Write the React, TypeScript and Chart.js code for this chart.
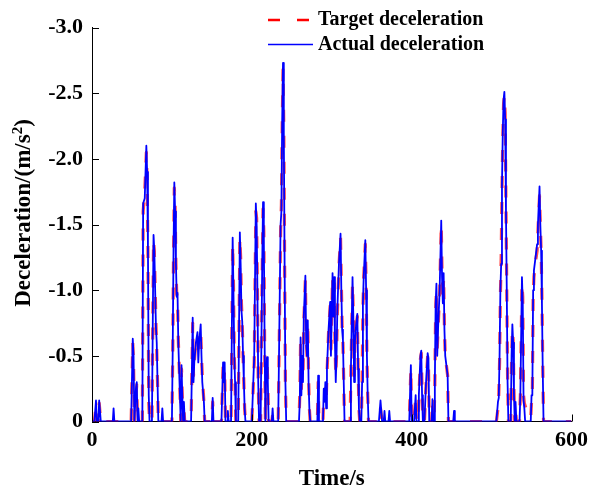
import React, { useEffect, useRef } from 'react';
import { Chart, registerables } from 'chart.js';

Chart.register(...registerables);

// ---- data (time in s, deceleration in m/s^2) ----
const times = [
  0, 3, 5, 6, 8, 9, 11,
  26, 27, 28,
  49, 51, 52, 53, 55, 56, 57, 58, 59,
  63, 64, 66, 68, 69, 70, 71, 72,
  75, 77, 78, 80, 81, 82, 83,
  87, 88, 89,
  100, 101, 102, 103, 104, 105, 106, 107, 108, 110, 111, 112, 113, 114, 115, 116,
  124, 126, 127, 128, 130, 132, 133, 134, 136, 137, 138, 140, 141,
  150, 151, 152,
  162, 164, 165, 166, 167, 169, 170, 171,
  174, 176, 177, 178, 179, 180,
  183, 185, 186, 187, 188, 189, 190, 191, 192,
  200, 203, 205, 206, 207, 208, 209,
  211, 213, 214, 215, 216, 217, 218, 219, 220, 221,
  225, 226, 227,
  233, 235, 236, 237, 238, 239, 240, 241, 242, 243,
  259, 260, 261, 262, 263, 264, 265, 267, 268, 269, 270, 271, 272, 273,
  282, 283, 284,
  289, 290, 291, 292, 293, 294, 296, 298, 299, 301, 302, 303, 304, 305, 306, 307, 309, 311, 312, 313, 314, 315, 316,
  323, 324, 326, 327, 328, 329, 330, 332, 333, 334, 335,
  337, 338, 339, 340, 342, 343, 344, 345, 346,
  359, 361, 362, 363, 365, 366, 367, 371, 372, 373,
  397, 399, 400,
  403, 405, 406,
  408, 409, 411, 412, 413, 414,
  416, 418, 420, 421, 422,
  425, 426, 427,
  428, 429, 430, 431, 432, 433, 435, 437, 438, 439, 440, 441, 442, 443, 445, 446,
  452, 453, 454,
  506, 508, 509, 510, 511, 512, 513, 514, 515, 516, 517, 518, 519, 520, 521,
  524, 525, 526, 527, 528, 529, 530, 531,
  535, 536, 538, 539, 540, 541, 542, 544, 548,
  549, 550, 551, 552, 553, 555, 557, 558, 560, 561, 562, 563, 564, 565, 600,
];

const actual = [
  0, 0, -0.16, 0, 0, -0.16, 0,
  0, -0.1, 0,
  0, -0.63, -0.5, 0, -0.25, -0.3, 0, -0.1, 0,
  0, -1.66, -1.7, -2.1, -1.9, -1.33, -0.2, 0,
  0, -1.42, -1.3, -0.72, -0.6, -0.3, 0,
  0, -0.1, 0,
  0, -0.55, -1.3, -1.82, -1.6, -1.21, -0.95, -0.98, -0.6, -0.2, 0, -0.43, -0.2, 0, -0.15, 0,
  0, -0.79, -0.3, -0.45, -0.6, -0.68, -0.45, -0.6, -0.74, -0.5, -0.3, -0.15, 0,
  0, -0.18, 0,
  0, -0.45, -0.3, -0.45, 0, 0, -0.08, 0,
  0, -1.4, -1.0, -0.52, -0.3, 0,
  0, -1.44, -1.2, -0.85, -0.76, -0.5, -0.31, -0.1, 0,
  0, -0.5, -1.66, -1.5, -1.0, -0.3, 0,
  0, -1.2, -1.67, -1.4, -0.6, 0, -0.4, -0.49, -0.3, 0,
  0, -0.1, 0,
  0, -1.0, -1.5, -1.6, -2.3, -2.73, -2.2, -1.2, -0.3, 0,
  0, -0.15, -0.64, -0.2, -0.5, -0.3, -0.8, -1.11, -0.6, -0.5, -0.77, -0.3, -0.1, 0,
  0, -0.35, 0,
  0, -0.25, -0.15, -0.3, -0.1, -0.4, -0.7, -0.91, -0.5, -1.13, -0.8, -1.1, -0.6, -0.3, -0.5, -0.85, -1.2, -1.43, -1.0, -0.7, -0.62, -0.3, 0,
  0, -0.4, -1.1, -0.8, -0.3, -0.6, -0.7, -0.82, -0.4, -0.1, 0,
  0, -0.3, -0.9, -1.1, -1.38, -1.0, -0.5, -0.2, 0,
  0, -0.16, -0.08, 0, 0, -0.08, 0, 0, -0.08, 0,
  0, -0.43, 0,
  0, -0.2, 0,
  0, -0.2, -0.5, -0.54, -0.2, 0,
  0, -0.3, -0.52, -0.48, 0,
  0, -0.17, 0,
  0, -0.3, -0.9, -1.05, -0.5, -0.7, -1.0, -1.53, -1.1, -0.9, -1.13, -0.7, -0.5, -0.45, -0.35, 0,
  0, -0.08, 0,
  0, -0.15, -0.18, -0.5, -1.0, -1.2, -1.8, -2.2, -2.45, -2.51, -2.3, -1.6, -1.0, -0.3, 0,
  0, -0.5, -0.74, -0.6, -0.2, 0, -0.15, 0,
  0, -0.2, -1.1, -0.9, -0.16, -0.1, 0, 0, 0,
  0, -0.2, -0.2, -1.0, -1.15, -1.25, -1.35, -1.5, -1.79, -1.5, -1.3, -0.9, -0.4, 0, 0,
];

const target = [
  0, 0, -0.12, 0, 0, -0.14, 0,
  0, 0, 0,
  0, -0.6, -0.45, 0, -0.2, -0.28, 0, 0, 0,
  0, -1.6, -1.75, -2.05, -1.85, -1.3, -0.15, 0,
  0, -1.38, -1.3, -0.75, -0.55, -0.3, 0,
  0, 0, 0,
  0, -0.5, -1.25, -1.78, -1.65, -1.2, -0.97, -0.95, -0.62, -0.25, 0, -0.4, -0.2, 0, -0.1, 0,
  0, -0.75, -0.35, -0.45, -0.62, -0.65, -0.5, -0.6, -0.7, -0.5, -0.35, -0.15, 0,
  0, -0.15, 0,
  0, -0.42, -0.3, -0.4, 0, 0, 0, 0,
  0, -1.35, -1.05, -0.5, -0.3, 0,
  0, -1.4, -1.25, -0.9, -0.75, -0.5, -0.3, -0.1, 0,
  0, -0.45, -1.6, -1.55, -1.0, -0.3, 0,
  0, -1.15, -1.62, -1.45, -0.6, 0, -0.4, -0.45, -0.3, 0,
  0, -0.05, 0,
  0, -0.95, -1.45, -1.65, -2.25, -2.68, -2.25, -1.25, -0.3, 0,
  0, -0.2, -0.6, -0.25, -0.45, -0.35, -0.75, -1.08, -0.65, -0.5, -0.75, -0.35, -0.1, 0,
  0, -0.3, 0,
  0, -0.2, -0.2, -0.25, -0.15, -0.35, -0.68, -0.88, -0.55, -1.1, -0.85, -1.05, -0.62, -0.35, -0.5, -0.82, -1.18, -1.4, -1.05, -0.72, -0.6, -0.3, 0,
  0, -0.38, -1.05, -0.82, -0.35, -0.58, -0.7, -0.8, -0.42, -0.1, 0,
  0, -0.3, -0.85, -1.1, -1.35, -1.05, -0.5, -0.2, 0,
  0, -0.1, -0.05, 0, 0, 0, 0, 0, 0, 0,
  0, -0.4, 0,
  0, -0.18, 0,
  0, -0.18, -0.48, -0.52, -0.25, 0,
  0, -0.28, -0.5, -0.45, 0,
  0, -0.15, 0,
  0, -0.28, -0.85, -1.0, -0.55, -0.7, -0.98, -1.5, -1.15, -0.92, -1.1, -0.72, -0.5, -0.45, -0.35, 0,
  0, 0, 0,
  0, -0.1, -0.2, -0.45, -0.95, -1.25, -1.75, -2.15, -2.42, -2.48, -2.35, -1.65, -1.0, -0.35, 0,
  0, -0.45, -0.7, -0.62, -0.25, 0, -0.1, 0,
  0, -0.2, -1.05, -0.95, -0.2, -0.14, -0.12, -0.08, -0.05,
  -0.03, -0.15, -0.2, -0.95, -1.1, -1.22, -1.3, -1.45, -1.72, -1.5, -1.3, -0.95, -0.45, 0, 0,
];

const xTicks = [0, 200, 400, 600];
const yTicks = [-3.0, -2.5, -2.0, -1.5, -1.0, -0.5, 0];
const seriesLabels = ['Target deceleration', 'Actual deceleration'];
const xTitle = 'Time/s';
const yTitleMain = 'Deceleration/(m/s';
const yTitleSup = '2';
const yTitleEnd = ')';

const FONT = '"Liberation Serif", "Times New Roman", Times, serif';
const RED = '#ff0000';
const BLUE = '#0000ff';

const decorPlugin = {
  id: 'decor',
  afterDraw(chart: any) {
    const { ctx, chartArea, scales } = chart;
    ctx.save();
    // inward tick marks
    ctx.strokeStyle = '#000';
    ctx.lineWidth = 1;
    ctx.setLineDash([]);
    ctx.beginPath();
    xTicks.forEach((v) => {
      const px = Math.round(scales.x.getPixelForValue(v)) + 0.5;
      ctx.moveTo(px, chartArea.bottom);
      ctx.lineTo(px, chartArea.bottom - 7);
    });
    yTicks.forEach((v) => {
      const py = Math.round(scales.y.getPixelForValue(v)) + 0.5;
      ctx.moveTo(chartArea.left, py);
      ctx.lineTo(chartArea.left + 7, py);
    });
    ctx.stroke();

    // legend
    ctx.strokeStyle = RED;
    ctx.lineWidth = 2.5;
    ctx.setLineDash([12, 17]);
    ctx.beginPath();
    ctx.moveTo(268, 20);
    ctx.lineTo(310, 20);
    ctx.stroke();
    ctx.setLineDash([]);
    ctx.strokeStyle = BLUE;
    ctx.lineWidth = 1.5;
    ctx.beginPath();
    ctx.moveTo(268, 44.5);
    ctx.lineTo(313, 44.5);
    ctx.stroke();
    ctx.fillStyle = '#000';
    ctx.font = `bold 20px ${FONT}`;
    ctx.textAlign = 'left';
    ctx.textBaseline = 'middle';
    ctx.fillText(seriesLabels[0], 318, 20);
    ctx.fillText(seriesLabels[1], 318, 45);

    // y-axis title with superscript
    const mainFont = `bold 23px ${FONT}`;
    const supFont = `bold 15px ${FONT}`;
    ctx.font = mainFont;
    const w1 = ctx.measureText(yTitleMain).width;
    const w3 = ctx.measureText(yTitleEnd).width;
    ctx.font = supFont;
    const w2 = ctx.measureText(yTitleSup).width;
    const total = w1 + w2 + w3;
    ctx.translate(30, 213);
    ctx.rotate(-Math.PI / 2);
    ctx.textBaseline = 'alphabetic';
    const x0 = -total / 2;
    ctx.font = mainFont;
    ctx.fillText(yTitleMain, x0, 0);
    ctx.font = supFont;
    ctx.fillText(yTitleSup, x0 + w1, -8);
    ctx.font = mainFont;
    ctx.fillText(yTitleEnd, x0 + w1 + w2, 0);
    ctx.restore();
  },
};

export default function App() {
  const ref = useRef<HTMLCanvasElement | null>(null);

  useEffect(() => {
    if (!ref.current) return;
    const tickFont = { family: FONT, size: 22, weight: 'bold' as const };
    const chart = new Chart(ref.current, {
      type: 'line',
      data: {
        datasets: [
          {
            label: seriesLabels[0],
            data: times.map((t, i) => ({ x: t, y: target[i] })),
            borderColor: 'rgba(255,0,0,0.7)',
            borderWidth: 3.2,
            borderDash: [12, 14],
            borderJoinStyle: 'round',
            pointRadius: 0,
            fill: false,
            tension: 0,
            order: 1,
          },
          {
            label: seriesLabels[1],
            data: times.map((t, i) => ({ x: t, y: actual[i] })),
            borderColor: BLUE,
            borderWidth: 1.8,
            borderJoinStyle: 'round',
            pointRadius: 0,
            fill: false,
            tension: 0,
            order: 0,
          },
        ],
      },
      options: {
        responsive: false,
        animation: false,
        layout: { padding: { top: 27.5, right: 19.5, bottom: 0, left: 0 } },
        plugins: { legend: { display: false }, tooltip: { enabled: false } },
        scales: {
          x: {
            type: 'linear',
            min: 0,
            max: 600,
            afterBuildTicks: (s: any) => {
              s.ticks = xTicks.map((v) => ({ value: v }));
            },
            afterFit: (s: any) => {
              s.height = 73.5;
              s.paddingLeft = 0;
              s.paddingRight = 0;
            },
            grid: { display: false, drawTicks: false },
            border: { display: true, color: '#000', width: 1 },
            ticks: {
              color: '#000',
              font: tickFont,
              padding: 6,
              maxRotation: 0,
              autoSkip: false,
            },
            title: {
              display: true,
              text: xTitle,
              color: '#000',
              font: { family: FONT, size: 23, weight: 'bold' },
              padding: { top: 0, bottom: 2 },
            },
          },
          y: {
            type: 'linear',
            min: -3,
            max: 0,
            reverse: true,
            afterBuildTicks: (s: any) => {
              s.ticks = yTicks.map((v) => ({ value: v }));
            },
            afterFit: (s: any) => {
              s.width = 92;
              s.paddingTop = 0;
              s.paddingBottom = 0;
            },
            grid: { display: false, drawTicks: false },
            border: { display: true, color: '#000', width: 1 },
            ticks: {
              color: '#000',
              font: tickFont,
              padding: 9,
              autoSkip: false,
              callback: (v: any) => (Number(v) === 0 ? '0' : Number(v).toFixed(1)),
            },
          },
        },
      },
      plugins: [decorPlugin],
    } as any);
    return () => chart.destroy();
  }, []);

  return (
    <div style={{ position: 'fixed', left: 0, top: 0, width: 591, height: 495 }}>
      <canvas ref={ref} width={591} height={495} style={{ display: 'block' }} />
    </div>
  );
}
